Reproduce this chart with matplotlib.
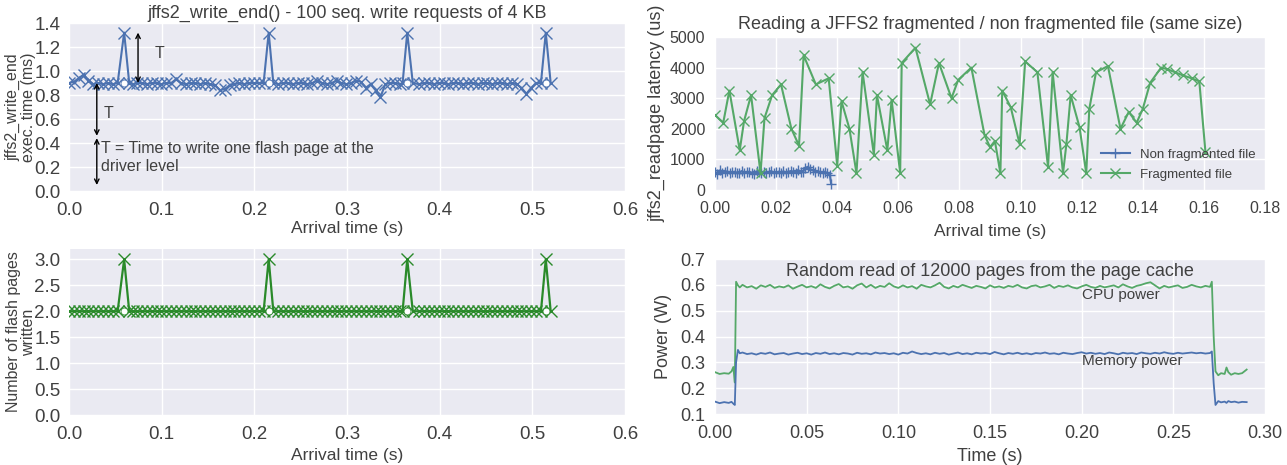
import matplotlib
matplotlib.use('Agg')
import matplotlib.pyplot as plt

plt.rcParams['font.family'] = ['Liberation Sans', 'DejaVu Sans']

# ---------------- data ----------------
arrival_time = [0.0000, 0.0053, 0.0105, 0.0158, 0.0210, 0.0263, 0.0315, 0.0368, 0.0420, 0.0473,
                0.0525, 0.0595, 0.0650, 0.0690, 0.0735, 0.0788, 0.0840, 0.0893, 0.0945, 0.0998,
                0.1050, 0.1103, 0.1155, 0.1208, 0.1260, 0.1313, 0.1365, 0.1418, 0.1470, 0.1523,
                0.1575, 0.1628, 0.1680, 0.1733, 0.1785, 0.1838, 0.1890, 0.1943, 0.1995, 0.2048,
                0.2100, 0.2155, 0.2205, 0.2258, 0.2310, 0.2363, 0.2415, 0.2468, 0.2520, 0.2573,
                0.2625, 0.2678, 0.2730, 0.2783, 0.2835, 0.2888, 0.2940, 0.2993, 0.3045, 0.3098,
                0.3150, 0.3203, 0.3255, 0.3308, 0.3360, 0.3413, 0.3465, 0.3518, 0.3570, 0.3600,
                0.3650, 0.3710, 0.3780, 0.3833, 0.3885, 0.3938, 0.3990, 0.4043, 0.4095, 0.4148,
                0.4200, 0.4253, 0.4305, 0.4358, 0.4410, 0.4463, 0.4515, 0.4568, 0.4620, 0.4673,
                0.4725, 0.4778, 0.4830, 0.4883, 0.4935, 0.4988, 0.5040, 0.5093, 0.5145, 0.5198]

write_end_ms = [0.90, 0.91, 0.94, 0.97, 0.92, 0.89, 0.90, 0.89, 0.90, 0.89,
                0.90, 1.32, 0.90, 0.89, 0.90, 0.90, 0.89, 0.90, 0.90, 0.89,
                0.90, 0.90, 0.93, 0.90, 0.89, 0.90, 0.90, 0.89, 0.90, 0.89,
                0.88, 0.84, 0.85, 0.88, 0.89, 0.90, 0.89, 0.90, 0.90, 0.90,
                0.90, 1.32, 0.90, 0.89, 0.90, 0.90, 0.89, 0.90, 0.90, 0.89,
                0.90, 0.92, 0.90, 0.89, 0.90, 0.92, 0.90, 0.89, 0.90, 0.92,
                0.91, 0.86, 0.89, 0.84, 0.78, 0.89, 0.90, 0.90, 0.89, 0.90,
                1.32, 0.90, 0.89, 0.90, 0.90, 0.89, 0.90, 0.90, 0.89, 0.90,
                0.90, 0.89, 0.90, 0.90, 0.89, 0.90, 0.90, 0.89, 0.90, 0.90,
                0.89, 0.90, 0.89, 0.86, 0.81, 0.86, 0.90, 0.90, 1.32, 0.90]

flash_pages = [2, 2, 2, 2, 2, 2, 2, 2, 2, 2,
               2, 3, 2, 2, 2, 2, 2, 2, 2, 2,
               2, 2, 2, 2, 2, 2, 2, 2, 2, 2,
               2, 2, 2, 2, 2, 2, 2, 2, 2, 2,
               2, 3, 2, 2, 2, 2, 2, 2, 2, 2,
               2, 2, 2, 2, 2, 2, 2, 2, 2, 2,
               2, 2, 2, 2, 2, 2, 2, 2, 2, 2,
               3, 2, 2, 2, 2, 2, 2, 2, 2, 2,
               2, 2, 2, 2, 2, 2, 2, 2, 2, 2,
               2, 2, 2, 2, 2, 2, 2, 2, 3, 2]

spike_time = [0.0595, 0.2155, 0.3650, 0.5145]
spike_base_ms = [0.90, 0.90, 0.90, 0.90]
spike_base_pages = [2, 2, 2, 2]

# fragmented / non fragmented read latency
nf_time = [0.0000, 0.0008, 0.0016, 0.0024, 0.0032, 0.0040, 0.0048, 0.0056, 0.0064, 0.0072,
           0.0080, 0.0088, 0.0096, 0.0104, 0.0112, 0.0120, 0.0128, 0.0136, 0.0144, 0.0152,
           0.0160, 0.0168, 0.0176, 0.0184, 0.0192, 0.0200, 0.0208, 0.0216, 0.0224, 0.0232,
           0.0240, 0.0248, 0.0256, 0.0264, 0.0272, 0.0280, 0.0288, 0.0296, 0.0304, 0.0312,
           0.0320, 0.0328, 0.0336, 0.0344, 0.0352, 0.0360, 0.0368, 0.0376, 0.0380]
nf_latency = [600, 520, 640, 560, 590, 610, 540, 580, 600, 560,
              570, 620, 550, 590, 600, 560, 530, 610, 580, 570,
              600, 560, 590, 620, 550, 580, 600, 570, 610, 560,
              590, 620, 600, 560, 650, 580, 600, 720, 760, 680,
              640, 600, 620, 580, 560, 600, 540, 480, 200]

fr_time = [0.0000, 0.0027, 0.0047, 0.0081, 0.0095, 0.0118, 0.0149, 0.0162, 0.0187, 0.0216,
           0.0250, 0.0275, 0.0290, 0.0330, 0.0372, 0.0400, 0.0414, 0.0440, 0.0463, 0.0483,
           0.0520, 0.0530, 0.0564, 0.0578, 0.0606, 0.0611, 0.0656, 0.0704, 0.0733, 0.0774,
           0.0796, 0.0839, 0.0882, 0.0900, 0.0916, 0.0934, 0.0940, 0.0968, 0.0997, 0.1015,
           0.1055, 0.1090, 0.1105, 0.1139, 0.1150, 0.1164, 0.1193, 0.1215, 0.1225, 0.1247,
           0.1286, 0.1327, 0.1354, 0.1380, 0.1400, 0.1424, 0.1460, 0.1480, 0.1505, 0.1530,
           0.1560, 0.1585, 0.1605]
fr_latency = [2450, 2200, 3250, 1300, 2250, 3100, 550, 2350, 3100, 3450,
              2000, 1450, 4400, 3450, 3650, 800, 2900, 2000, 550, 3850,
              1150, 3100, 1300, 2950, 550, 4150, 4650, 2800, 4150, 3000,
              3600, 4000, 1800, 1400, 1600, 550, 3250, 2700, 1500, 4200,
              3850, 750, 3850, 550, 1500, 3100, 2050, 550, 2650, 3850,
              4050, 2000, 2550, 2200, 2650, 3500, 4000, 3950, 3850, 3750,
              3650, 3550, 1250]

# power measurement
pw_time_head = [0.0000, 0.0025, 0.0050, 0.0075, 0.0090, 0.0100, 0.0108, 0.0115, 0.0125, 0.0135]
pw_time_mid = [0.0150, 0.0175, 0.0200, 0.0225, 0.0250, 0.0275, 0.0300, 0.0325, 0.0350, 0.0375,
               0.0400, 0.0425, 0.0450, 0.0475, 0.0500, 0.0525, 0.0550, 0.0575, 0.0600, 0.0625,
               0.0650, 0.0675, 0.0700, 0.0725, 0.0750, 0.0775, 0.0800, 0.0825, 0.0850, 0.0875,
               0.0900, 0.0925, 0.0950, 0.0975, 0.1000, 0.1025, 0.1050, 0.1075, 0.1100, 0.1125,
               0.1150, 0.1175, 0.1200, 0.1225, 0.1250, 0.1275, 0.1300, 0.1325, 0.1350, 0.1375,
               0.1400, 0.1425, 0.1450, 0.1475, 0.1500, 0.1525, 0.1550, 0.1575, 0.1600, 0.1625,
               0.1650, 0.1675, 0.1700, 0.1725, 0.1750, 0.1775, 0.1800, 0.1825, 0.1850, 0.1875,
               0.1900, 0.1925, 0.1950, 0.1975, 0.2000, 0.2025, 0.2050, 0.2075, 0.2100, 0.2125,
               0.2150, 0.2175, 0.2200, 0.2225, 0.2250, 0.2275, 0.2300, 0.2325, 0.2350, 0.2375,
               0.2400, 0.2425, 0.2450, 0.2475, 0.2500, 0.2525, 0.2550, 0.2575, 0.2600, 0.2625,
               0.2650, 0.2675, 0.2700]
pw_time_tail = [0.2710, 0.2720, 0.2730, 0.2745, 0.2760, 0.2780, 0.2790, 0.2800, 0.2815, 0.2835,
                0.2855, 0.2875, 0.2900]

cpu_head = [0.262, 0.255, 0.258, 0.256, 0.265, 0.282, 0.222, 0.612, 0.598, 0.590]
cpu_mid = [0.600, 0.590, 0.595, 0.585, 0.598, 0.592, 0.600, 0.588, 0.594, 0.590,
           0.598, 0.585, 0.593, 0.600, 0.590, 0.595, 0.588, 0.602, 0.592, 0.586,
           0.596, 0.603, 0.590, 0.594, 0.585, 0.598, 0.605, 0.590, 0.600, 0.588,
           0.596, 0.592, 0.606, 0.594, 0.588, 0.598, 0.590, 0.595, 0.585, 0.600,
           0.594, 0.590, 0.598, 0.608, 0.592, 0.586, 0.596, 0.590, 0.600, 0.594,
           0.588, 0.596, 0.592, 0.586, 0.598, 0.590, 0.594, 0.588, 0.596, 0.592,
           0.600, 0.590, 0.586, 0.595, 0.598, 0.590, 0.594, 0.600, 0.588, 0.596,
           0.592, 0.598, 0.590, 0.586, 0.594, 0.600, 0.592, 0.588, 0.596, 0.590,
           0.594, 0.598, 0.590, 0.602, 0.594, 0.588, 0.596, 0.600, 0.606, 0.610,
           0.598, 0.586, 0.596, 0.590, 0.594, 0.598, 0.588, 0.592, 0.600, 0.594,
           0.590, 0.596, 0.592]
cpu_tail = [0.612, 0.400, 0.265, 0.250, 0.258, 0.255, 0.280, 0.262, 0.252, 0.258,
            0.255, 0.258, 0.272]

mem_head = [0.148, 0.142, 0.146, 0.143, 0.147, 0.140, 0.135, 0.300, 0.348, 0.335]
mem_mid = [0.338, 0.332, 0.335, 0.330, 0.336, 0.333, 0.338, 0.331, 0.334, 0.336,
           0.330, 0.334, 0.337, 0.332, 0.335, 0.330, 0.336, 0.333, 0.338, 0.332,
           0.335, 0.331, 0.336, 0.334, 0.330, 0.337, 0.333, 0.335, 0.331, 0.338,
           0.334, 0.336, 0.332, 0.335, 0.330, 0.337, 0.334, 0.342, 0.336, 0.332,
           0.335, 0.331, 0.337, 0.333, 0.336, 0.330, 0.334, 0.338, 0.332, 0.335,
           0.331, 0.337, 0.334, 0.336, 0.332, 0.340, 0.335, 0.331, 0.336, 0.333,
           0.337, 0.332, 0.335, 0.331, 0.336, 0.334, 0.338, 0.333, 0.335, 0.331,
           0.337, 0.334, 0.332, 0.336, 0.339, 0.334, 0.337, 0.333, 0.336, 0.332,
           0.338, 0.335, 0.331, 0.337, 0.334, 0.336, 0.332, 0.338, 0.335, 0.333,
           0.337, 0.334, 0.339, 0.335, 0.333, 0.337, 0.334, 0.336, 0.338, 0.335,
           0.337, 0.334, 0.336]
mem_tail = [0.342, 0.220, 0.135, 0.150, 0.145, 0.148, 0.143, 0.150, 0.146, 0.148,
            0.144, 0.147, 0.146]

pw_time = pw_time_head + pw_time_mid + pw_time_tail
cpu_power = cpu_head + cpu_mid + cpu_tail
mem_power = mem_head + mem_mid + mem_tail

# ---------------- style ----------------
BLUE = '#4C72B0'
GREEN = '#55A868'
DGREEN = '#2a8a2a'
BG = '#EAEAF2'
TXT = '0.25'

W, H = 1287, 465
fig = plt.figure(figsize=(W / 100, H / 100), dpi=100)


def px_axes(l, t, r, b):
    return fig.add_axes([l / W, 1 - b / H, (r - l) / W, (b - t) / H])


def style(ax, fs, xpad, ypad):
    ax.set_facecolor(BG)
    for s in ax.spines.values():
        s.set_visible(False)
    ax.grid(True, color='white', lw=1.0)
    ax.set_axisbelow(True)
    ax.tick_params(length=0, labelsize=fs, labelcolor=TXT)
    ax.tick_params(axis='x', pad=xpad)
    ax.tick_params(axis='y', pad=ypad)


# ---- top-left ----
ax1 = px_axes(69, 23, 625, 191)
style(ax1, 13.5, 8, 6)
ax1.plot(arrival_time, write_end_ms, color=BLUE, lw=1.5, marker='x', ms=8, mew=1.0)
ax1.plot(spike_time, spike_base_ms, ls='none', marker='o', ms=5, mfc='white', mec=BLUE, mew=0.6)
ax1.set_xlim(0, 0.6)
ax1.set_ylim(0, 1.4)
ax1.set_xticks([0.0, 0.1, 0.2, 0.3, 0.4, 0.5, 0.6])
ax1.set_yticks([0.0, 0.2, 0.4, 0.6, 0.8, 1.0, 1.2, 1.4])
ax1.xaxis.set_major_formatter(matplotlib.ticker.FormatStrFormatter('%.1f'))
ax1.yaxis.set_major_formatter(matplotlib.ticker.FormatStrFormatter('%.1f'))
ax1.set_title('jffs2_write_end() - 100 seq. write requests of 4 KB', fontsize=13, color=TXT, pad=4)
ax1.set_xlabel('Arrival time (s)', fontsize=12.5, color=TXT)
ax1.xaxis.set_label_coords(0.5, -0.18)
ax1.set_ylabel('jffs2_write_end\nexec. time (ms)', fontsize=11.5, color=TXT, linespacing=1.05)
ax1.yaxis.set_label_coords(-0.059, 0.5)
arr = dict(arrowstyle='<->', color='black', lw=1.0, shrinkA=0, shrinkB=0, mutation_scale=8)
ax1.annotate('', xy=(0.0745, 1.32), xytext=(0.0745, 0.90), arrowprops=arr)
ax1.annotate('', xy=(0.030, 0.90), xytext=(0.030, 0.46), arrowprops=arr)
ax1.annotate('', xy=(0.030, 0.44), xytext=(0.030, 0.05), arrowprops=arr)
ax1.text(0.092, 1.15, 'T', fontsize=11.5, color=TXT, va='center', ha='left')
ax1.text(0.037, 0.65, 'T', fontsize=11.5, color=TXT, va='center', ha='left')
ax1.text(0.034, 0.28, 'T = Time to write one flash page at the\ndriver level', fontsize=11.5,
         color=TXT, va='center', ha='left')

# ---- bottom-left ----
ax3 = px_axes(69, 249, 625, 415)
style(ax3, 13.5, 8, 6)
ax3.plot(arrival_time, flash_pages, color=DGREEN, lw=1.6, marker='x', ms=8, mew=1.0)
ax3.plot(spike_time, spike_base_pages, ls='none', marker='o', ms=5, mfc='white', mec=DGREEN, mew=0.6)
ax3.set_xlim(0, 0.6)
ax3.set_ylim(0, 3.2)
ax3.set_xticks([0.0, 0.1, 0.2, 0.3, 0.4, 0.5, 0.6])
ax3.set_yticks([0.0, 0.5, 1.0, 1.5, 2.0, 2.5, 3.0])
ax3.xaxis.set_major_formatter(matplotlib.ticker.FormatStrFormatter('%.1f'))
ax3.yaxis.set_major_formatter(matplotlib.ticker.FormatStrFormatter('%.1f'))
ax3.set_xlabel('Arrival time (s)', fontsize=12.5, color=TXT)
ax3.xaxis.set_label_coords(0.5, -0.2)
ax3.set_ylabel('Number of flash pages\nwritten', fontsize=11.5, color=TXT, linespacing=1.05)
ax3.yaxis.set_label_coords(-0.059, 0.5)

# ---- top-right ----
ax2 = px_axes(715, 37, 1265, 190)
style(ax2, 11.5, 8, 7)
ax2.plot(nf_time, nf_latency, color=BLUE, lw=1.5, marker='+', ms=7, mew=1.0, label='Non fragmented file')
ax2.plot(fr_time, fr_latency, color=GREEN, lw=1.5, marker='x', ms=7, mew=1.0, label='Fragmented file')
ax2.set_xlim(0, 0.18)
ax2.set_ylim(0, 5000)
ax2.set_xticks([0.00, 0.02, 0.04, 0.06, 0.08, 0.10, 0.12, 0.14, 0.16, 0.18])
ax2.set_yticks([0, 1000, 2000, 3000, 4000, 5000])
ax2.xaxis.set_major_formatter(matplotlib.ticker.FormatStrFormatter('%.2f'))
ax2.set_title('Reading a JFFS2 fragmented / non fragmented file (same size)', fontsize=13, color=TXT, pad=6)
ax2.set_xlabel('Arrival time (s)', fontsize=12.5, color=TXT)
ax2.xaxis.set_label_coords(0.5, -0.22)
ax2.set_ylabel('jffs2_readpage latency (us)', fontsize=13, color=TXT)
ax2.yaxis.set_label_coords(-0.091, 0.5)
leg = ax2.legend(loc='lower right', frameon=False, fontsize=9.5, handlelength=2.2,
                 borderaxespad=0.3, labelspacing=0.6)
for t in leg.get_texts():
    t.set_color(TXT)

# ---- bottom-right ----
ax4 = px_axes(715, 259, 1265, 414)
style(ax4, 13, 8, 7)
ax4.plot(pw_time, cpu_power, color=GREEN, lw=1.3)
ax4.plot(pw_time, mem_power, color=BLUE, lw=1.3)
ax4.set_xlim(0, 0.3)
ax4.set_ylim(0.1, 0.7)
ax4.set_xticks([0.00, 0.05, 0.10, 0.15, 0.20, 0.25, 0.30])
ax4.set_yticks([0.1, 0.2, 0.3, 0.4, 0.5, 0.6, 0.7])
ax4.xaxis.set_major_formatter(matplotlib.ticker.FormatStrFormatter('%.2f'))
ax4.yaxis.set_major_formatter(matplotlib.ticker.FormatStrFormatter('%.1f'))
ax4.text(0.5, 0.917, 'Random read of 12000 pages from the page cache', transform=ax4.transAxes,
         fontsize=13, color=TXT, ha='center', va='center')
ax4.text(0.2, 0.56, 'CPU power', fontsize=11, color=TXT, ha='left', va='center')
ax4.text(0.2, 0.305, 'Memory power', fontsize=11, color=TXT, ha='left', va='center')
ax4.set_xlabel('Time (s)', fontsize=13, color=TXT)
ax4.xaxis.set_label_coords(0.5, -0.219)
ax4.set_ylabel('Power (W)', fontsize=13, color=TXT)
ax4.yaxis.set_label_coords(-0.078, 0.5)

fig.savefig('out.png', dpi=100, facecolor='white')
